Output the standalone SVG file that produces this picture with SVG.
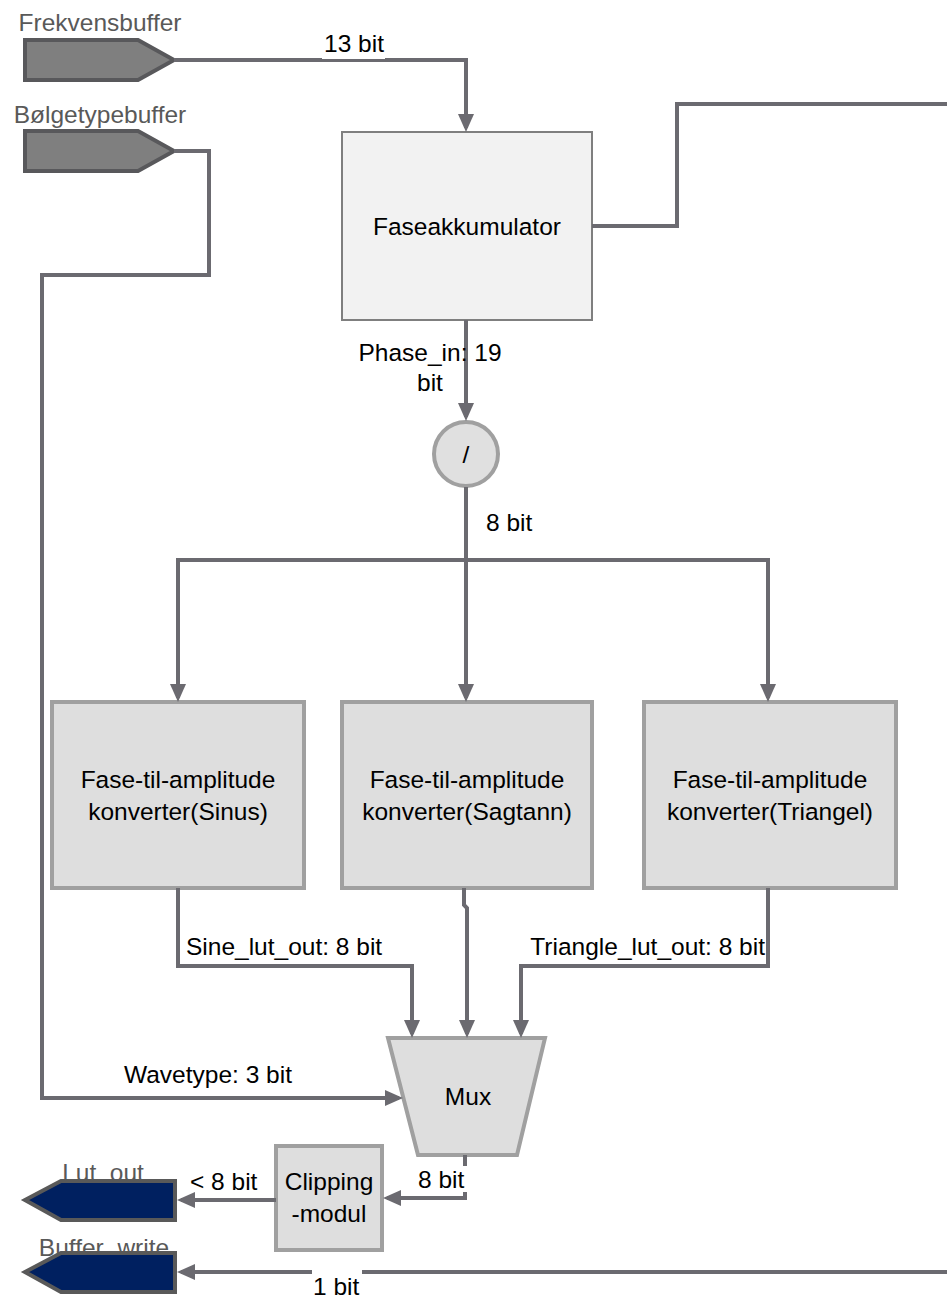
<svg xmlns="http://www.w3.org/2000/svg" width="947" height="1298" viewBox="0 0 947 1298">
<defs>
<marker id="arr" markerUnits="userSpaceOnUse" markerWidth="20" markerHeight="18" refX="14" refY="8" orient="auto"><path d="M0,0 L18,8 L0,16 z" fill="#6b6a70"/></marker>
</defs>
<style>
.t{font-family:"Liberation Sans",Arial,sans-serif;font-size:24.5px;fill:#000}
.m{text-anchor:middle}
.e{text-anchor:end}
.g{fill:#595959}
.w{stroke:#6b6a70;stroke-width:4;fill:none}
.a{marker-end:url(#arr)}
.box{fill:#dedede;stroke:#a0a0a0;stroke-width:4}
.buf{fill:#7f7f7f;stroke:#58585b;stroke-width:4}
.out{fill:#002060;stroke:#595959;stroke-width:4}
.bg{fill:#fff}
</style>
<rect width="947" height="1298" fill="#fff"/>
<g id="frekvensbuffer">
<text class="t g m" x="100" y="31">Frekvensbuffer</text>
<polygon class="buf" points="25,40 138,40 174,60 138,80 25,80"/>
</g>
<g id="bolgetypebuffer">
<text class="t g m" x="100" y="123">Bølgetypebuffer</text>
<polygon class="buf" points="25,131 138,131 174,151 138,171 25,171"/>
</g>
<g id="faseakkumulator">
<rect x="342" y="132" width="250" height="188" fill="#f2f2f2" stroke="#7f7f7f" stroke-width="2"/>
<text class="t m" x="467" y="235">Faseakkumulator</text>
</g>
<g id="divider">
<circle cx="466" cy="454" r="32" fill="#e0e0e0" stroke="#a0a0a0" stroke-width="4"/>
<text class="t m" x="466" y="463">/</text>
</g>
<g id="sinus">
<rect class="box" x="52" y="702" width="252" height="186"/>
<text class="t m" x="178" y="788">Fase-til-amplitude</text>
<text class="t m" x="178" y="820">konverter(Sinus)</text>
</g>
<g id="sagtann">
<rect class="box" x="342" y="702" width="250" height="186"/>
<text class="t m" x="467" y="788">Fase-til-amplitude</text>
<text class="t m" x="467" y="820">konverter(Sagtann)</text>
</g>
<g id="triangel">
<rect class="box" x="644" y="702" width="252" height="186"/>
<text class="t m" x="770" y="788">Fase-til-amplitude</text>
<text class="t m" x="770" y="820">konverter(Triangel)</text>
</g>
<g id="mux">
<polygon class="box" points="388,1038 545,1038 517,1155 418,1155"/>
<text class="t m" x="468" y="1105">Mux</text>
</g>
<g id="clipping">
<rect class="box" x="276" y="1146" width="106" height="104"/>
<text class="t m" x="329" y="1190">Clipping</text>
<text class="t m" x="329" y="1222">-modul</text>
</g>
<g id="lut_out">
<text class="t g m" x="103" y="1181">Lut_out</text>
<polygon class="out" points="25,1200 61,1181 175,1181 175,1220 61,1220"/>
</g>
<g id="buffer_write">
<text class="t g m" x="104" y="1256">Buffer_write</text>
<polygon class="out" points="25,1272 61,1253 175,1253 175,1292 61,1292"/>
</g>
<g id="connectors">
<path class="w a" d="M174,60 H466 V128"/>
<path class="w a" d="M174,151 H209 V275 H42 V1098 H399"/>
<path class="w" d="M592,226 H677 V104 H947"/>
<path class="w a" d="M466,320 V417"/>
<path class="w a" d="M466,487 V698"/>
<path class="w a" d="M466,560 H178 V698"/>
<path class="w a" d="M466,560 H768 V698"/>
<path class="w a" d="M178,888 V966 H412 V1034"/>
<path class="w a" d="M464,888 V905 L467,908 V1034"/>
<path class="w a" d="M768,888 V966 H521 V1034"/>
<path class="w a" d="M465,1155 V1198 H387"/>
<path class="w a" d="M276,1200 H181"/>
<path class="w a" d="M947,1272 H181"/>
<rect class="bg" x="322" y="33" width="63" height="26"/>
<text class="t m" x="354" y="52">13 bit</text>
<text class="t m" x="430" y="361">Phase_in: 19</text>
<text class="t m" x="430" y="391">bit</text>
<text class="t" x="486" y="531">8 bit</text>
<text class="t" x="186" y="955">Sine_lut_out: 8 bit</text>
<text class="t e" x="765" y="955">Triangle_lut_out: 8 bit</text>
<text class="t" x="124" y="1083">Wavetype: 3 bit</text>
<rect class="bg" x="417" y="1166" width="50" height="26"/>
<text class="t" x="418" y="1188">8 bit</text>
<text class="t" x="190" y="1190">&lt; 8 bit</text>
<rect class="bg" x="312" y="1266" width="50" height="32"/>
<text class="t" x="313" y="1295">1 bit</text>
</g>
</svg>
